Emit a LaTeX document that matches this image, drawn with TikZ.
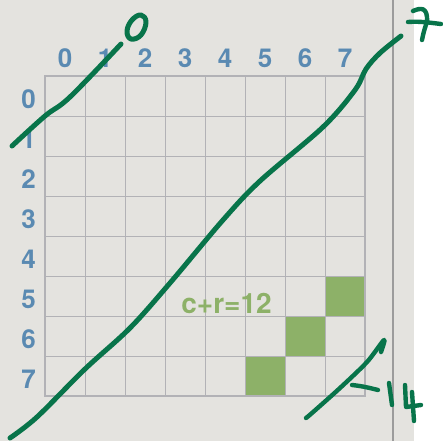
\documentclass[tikz,border=0pt]{standalone}
\usepackage{fontspec}
\newfontfamily\labfont{TeX Gyre Heros}
\definecolor{paper}{HTML}{E4E3DF}
\definecolor{gridc}{HTML}{B2B2B6}
\definecolor{labblue}{HTML}{5A8AB2}
\definecolor{cellgreen}{HTML}{8DB168}
\definecolor{ink}{HTML}{08744A}
\definecolor{sepc}{HTML}{9C9C9C}
\tikzset{
  collab/.style={anchor=base, text=labblue, font=\labfont\bfseries\fontsize{26}{26}\selectfont, inner sep=0pt},
  hand/.style={draw=ink, line width=5pt, line cap=round, line join=round},
  cellfill/.style={fill=cellgreen, draw=none}
}
\begin{document}
\begin{tikzpicture}[x=1pt,y=-1pt]
\useasboundingbox (0,0) rectangle (443,441);
\fill[white] (0,0) rectangle (443,441);
\fill[paper] (0,0) rectangle (414,441);
\draw[sepc, line width=1.4pt] (393,0) -- (393,441);
% green cells
\fill[cellfill] (325,276) rectangle (365,316);
\fill[cellfill] (285,316) rectangle (325,356);
\fill[cellfill] (245,356) rectangle (285,396);
% grid
\foreach \i in {1,...,7} {
  \draw[gridc, line width=1pt] (45+40*\i,76) -- (45+40*\i,396);
  \draw[gridc, line width=1pt] (45,76+40*\i) -- (365,76+40*\i);
}
\draw[gridc, line width=2pt] (45,76) rectangle (365,396);
% labels
\foreach \i in {0,...,7} {
  \node[collab] (c\i) at (65+40*\i,68) {\i};
  \node[collab] (r\i) at (28.5,108+40*\i) {\i};
}
\node[anchor=base, text=cellgreen, font=\labfont\bfseries\fontsize{28}{28}\selectfont, inner sep=0pt] (eq) at (226.5,313) {c+r=12};
% handwriting
\draw[hand] plot[smooth, tension=0.6] coordinates {(12,146) (45,116) (70,97) (121,44)};
\draw[hand] plot[smooth cycle, tension=0.7] coordinates {(141,15) (146,22) (141,35) (131,39) (127,31) (132,20)};
\draw[hand] plot[smooth, tension=0.55] coordinates {(10,438) (37,417) (85,369) (130,328) (170,283) (223,220) (260,181) (323,127) (355,90) (366,69) (380,53) (401,36)};
% 7
\draw[hand, line width=4.4pt] (413,11) .. controls (420,8) and (428,6) .. (427,22);
\draw[hand, line width=4.4pt] (408,22) .. controls (420,21) and (432,23) .. (441,24);
\draw[hand, line width=4.4pt] (427,22) .. controls (424,30) and (423,35) .. (422,40);
% lower right stroke and -14
\draw[hand, line width=4.4pt] plot[smooth, tension=0.5] coordinates {(306,418) (312,413) (340,388) (367,362) (384,340) (381,352)};
\draw[hand, line width=4.4pt] (352,385) .. controls (362,386) and (370,388) .. (378,390);
\draw[hand, line width=4.4pt] (389,383) -- (392,405);
\draw[hand, line width=4.4pt] (405,385) -- (406,407) -- (421,405);
\draw[hand, line width=4.4pt] (412,392) -- (414,421);
\end{tikzpicture}
\end{document}
